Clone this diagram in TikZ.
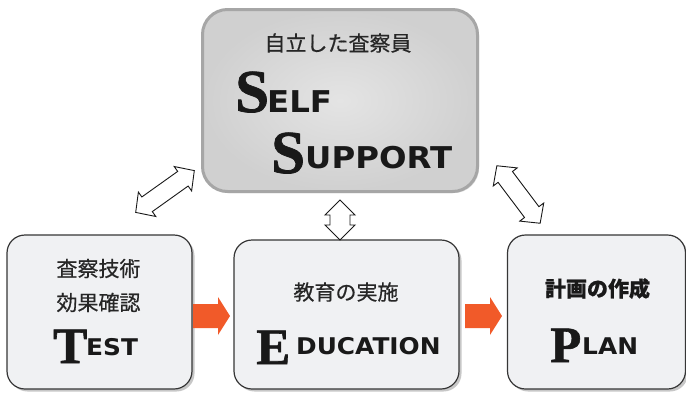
\documentclass[tikz,border=0pt]{standalone}
\usepackage{fontspec}
\usetikzlibrary{shadows,calc}
\newfontfamily\jpfont{Noto Sans CJK JP}[FakeBold=0.5]
\newfontfamily\capfont{DejaVu Sans}[FakeStretch=1.08]
\newfontfamily\inifont{Liberation Serif}[FakeBold=1.2]
\definecolor{boxfill}{HTML}{F0F1F3}
\definecolor{boxline}{HTML}{363636}
\definecolor{topline}{HTML}{A6A6A6}
\definecolor{topin}{HTML}{E4E4E4}
\definecolor{topout}{HTML}{D0D0D0}
\definecolor{arrorange}{HTML}{F15A29}
\begin{document}
\begin{tikzpicture}[x=1pt,y=-1pt,
  box/.style={draw=boxline, line width=1.2pt, fill=boxfill, rounded corners=18pt,
    inner sep=0pt, outer sep=0pt,
    drop shadow={shadow xshift=2.5pt, shadow yshift=-2.5pt, opacity=0.22, fill=black}},
  topbox/.style={draw=topline, line width=3pt, rounded corners=25pt,
    inner color=topin, outer color=topout, inner sep=0pt, outer sep=0pt,
    drop shadow={shadow xshift=1.5pt, shadow yshift=-1.5pt, opacity=0.15, fill=black}},
  jp/.style={font=\jpfont\fontsize{21}{21}\selectfont, inner sep=0pt, text=black!85},
  jpb/.style={font=\jpfont\bfseries\fontsize{21}{21}\selectfont, inner sep=0pt, text=black!90},
  ini/.style={font=\inifont\bfseries\fontsize{#1}{#1}\selectfont, anchor=base west, inner sep=0pt, text=black!90},
  capw/.style={font=\capfont\bfseries\fontsize{#1}{#1}\selectfont, anchor=base west, inner sep=0pt, text=black!90},
  outl/.style={draw=black!90, line width=0.9pt, fill=white, line join=miter},
  pics/dblarrow/.style n args={4}{code={
    \draw[outl] (-#1/2,0) -- (-#1/2+#2,#3) -- (-#1/2+#2,#4) -- (#1/2-#2,#4) -- (#1/2-#2,#3)
      -- (#1/2,0) -- (#1/2-#2,-#3) -- (#1/2-#2,-#4) -- (-#1/2+#2,-#4) -- (-#1/2+#2,-#3) -- cycle;}},
  pics/fatarrow/.style={code={
    \fill[arrorange] (0,-12) -- (25,-12) -- (25,-19) -- (37,0) -- (25,19) -- (25,12) -- (0,12) -- cycle;}}
]
\useasboundingbox (0,0) rectangle (686,392);

% boxes
\node[topbox, minimum width=275pt, minimum height=182pt] (self) at (340,100.5) {};
\node[box, minimum width=185pt, minimum height=154pt] (test) at (99.5,312) {};
\node[box, minimum width=225pt, minimum height=149pt] (edu) at (346.5,314.5) {};
\node[box, minimum width=178pt, minimum height=154pt] (plan) at (596.5,312) {};

% top box text
\node[jp] (t1) at (338,43) {自立した査察員};
\node[ini=61] (s1) at (235,112) {S};
\node[capw=30] (s2) at (267,112) {ELF};
\node[ini=61] (s3) at (271,173) {S};
\node[capw=30] (s4) at (305,168) {UPPORT};

% test box text
\node[jp] (a1) at (98.5,268.5) {査察技術};
\node[jp] (a2) at (98.5,302.5) {効果確認};
\node[ini=51] (a3) at (53,363) {T};
\node[capw=23] (a4) at (86,355) {EST};

% education box text
\node[jp] (b1) at (346,292) {教育の実施};
\node[ini=51] (b2) at (256,364) {E};
\node[capw=23] (b3) at (296,354) {DUCATION};

% plan box text
\node[jpb] (c1) at (597.5,288.5) {計画の作成};
\node[ini=51] (c2) at (550,362) {P};
\node[capw=23] (c3) at (582,354) {LAN};

% connectors
\coordinate (la) at (165,191.5);
\coordinate (ra) at (518.5,194.5);
\coordinate (va) at (340,220);
\coordinate (o1) at (193,316);
\coordinate (o2) at (465,316);
\pic[rotate=35.5] at (la) {dblarrow={72}{14}{15}{9}};
\pic[rotate=-53] at (ra) {dblarrow={72}{14}{15}{9}};
\pic[rotate=90] at (va) {dblarrow={40}{15}{15}{10}};
\pic at (o1) {fatarrow};
\pic at (o2) {fatarrow};
\end{tikzpicture}
\end{document}
